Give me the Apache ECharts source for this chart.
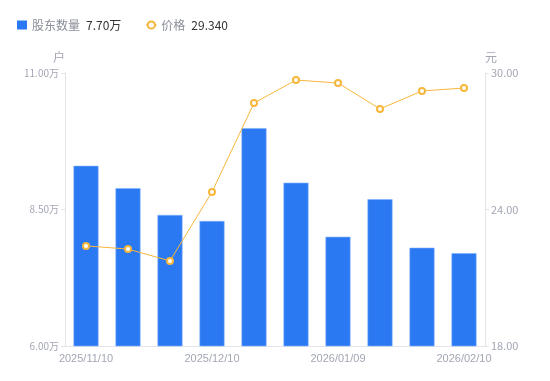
<!DOCTYPE html>
<html>
<head>
<meta charset="utf-8">
<script src="https://cdn.jsdelivr.net/npm/echarts@6/dist/echarts.min.js"></script>
<style>html,body{margin:0;padding:0;background:#fff;}#c{width:550px;height:381px;}</style>
</head>
<body>
<div id="c"></div>
<script>
var categories = ['2025/11/10','2025/11/20','2025/11/28','2025/12/10','2025/12/19','2025/12/31','2026/01/09','2026/01/20','2026/01/30','2026/02/10'];
var holders = [9.30, 8.89, 8.40, 8.29, 9.99, 8.99, 8.00, 8.69, 7.80, 7.70];
var prices = [22.40, 22.26, 21.74, 24.77, 28.68, 29.69, 29.56, 28.42, 29.21, 29.34];
var leftTicks = [6, 11];
var rightTicks = [18, 30];

var chart = echarts.init(document.getElementById('c'));
var labelColor = '#a3a6b4';
var axisLineColor = '#e3e4e8';
chart.setOption({
  animation: false,
  textStyle: { fontFamily: 'Noto Sans CJK SC, Noto Sans, sans-serif' },
  legend: {
    left: 12, top: 14,
    itemWidth: 10, itemHeight: 9, itemGap: 24,
    textStyle: {
      fontSize: 12, color: '#8a8d99',
      rich: { v: { color: '#333', fontSize: 12, padding: [0, 0, 0, 6] } }
    },
    formatter: function (name) {
      if (name === '股东数量') return name + '{v|' + holders[holders.length - 1].toFixed(2) + '万}';
      return name + '{v|' + prices[prices.length - 1].toFixed(3) + '}';
    },
    data: [
      { name: '股东数量', icon: 'rect', itemStyle: { color: '#2a79f3', borderWidth: 0 } },
      { name: '价格' }
    ]
  },
  grid: { left: 65, right: 65, top: 73, bottom: 35, containLabel: false },
  xAxis: {
    type: 'category',
    data: categories,
    axisLine: { lineStyle: { color: axisLineColor } },
    axisTick: { show: false },
    axisLabel: { color: labelColor, fontSize: 11, interval: 2, margin: 7, fontFamily: 'Liberation Sans, Arial, sans-serif' }
  },
  yAxis: [
    {
      type: 'value', min: leftTicks[0], max: leftTicks[1], interval: 2.5,
      name: '户', nameGap: 10,
      nameTextStyle: { color: labelColor, fontSize: 12, align: 'right' },
      axisLine: { show: true, lineStyle: { color: axisLineColor } },
      axisTick: { show: true, length: 4, lineStyle: { color: axisLineColor } },
      splitLine: { show: false },
      axisLabel: { color: labelColor, fontSize: 10, margin: 6, formatter: function (v) { return v.toFixed(2) + '万'; } }
    },
    {
      type: 'value', min: rightTicks[0], max: rightTicks[1], interval: 6,
      name: '元', nameGap: 10,
      nameTextStyle: { color: labelColor, fontSize: 12, align: 'left' },
      axisLine: { show: true, lineStyle: { color: axisLineColor } },
      axisTick: { show: true, length: 4, lineStyle: { color: axisLineColor } },
      splitLine: { show: false },
      axisLabel: { color: labelColor, fontSize: 11, margin: 6, formatter: function (v) { return v.toFixed(2); } }
    }
  ],
  series: [
    {
      name: '股东数量', type: 'bar', yAxisIndex: 0, data: holders,
      barWidth: 25,
      itemStyle: { color: '#2a79f3', borderColor: '#7fb0fb', borderWidth: 0.6 }
    },
    {
      name: '价格', type: 'line', yAxisIndex: 1, data: prices,
      symbol: 'emptyCircle', symbolSize: 6,
      lineStyle: { color: '#f7b63c', width: 1 },
      itemStyle: { color: '#f7b63c', borderWidth: 2 }
    }
  ]
});
</script>
</body>
</html>
